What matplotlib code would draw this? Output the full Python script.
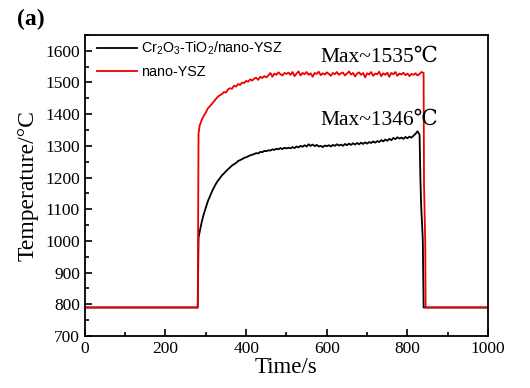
import numpy as np
import matplotlib
matplotlib.use('Agg')
import matplotlib.pyplot as plt
from matplotlib.ticker import MultipleLocator

# baseline and step times (s) / temps (C)
base_temp = 790
t_on = 280
t_end = 1000

# nano-YSZ (red), sampled every 5 s from 285 s
red_start = 285
red_vals = [1365, 1382, 1395, 1405, 1418, 1425, 1432, 1440, 1448, 1455,
            1460, 1463, 1470, 1468, 1478, 1482, 1480, 1490, 1487, 1495,
            1492, 1500, 1498, 1505, 1502, 1510, 1506, 1512, 1515, 1508,
            1518, 1514, 1520, 1516, 1522, 1530, 1518, 1528, 1524, 1532,
            1526, 1522, 1530, 1527,
            1531, 1524, 1533, 1520, 1528, 1535, 1522, 1530, 1526, 1533,
            1524, 1529, 1518, 1530, 1527, 1534, 1523, 1529, 1525, 1532,
            1527, 1521, 1530, 1526, 1533, 1524, 1529, 1531, 1522, 1528,
            1535, 1525, 1530, 1519, 1528, 1532, 1524, 1530, 1516, 1529,
            1525, 1533, 1521, 1528, 1526, 1534, 1520, 1529, 1524, 1531,
            1518, 1530, 1526, 1533, 1521, 1528, 1525, 1531, 1523, 1528,
            1520, 1527, 1524, 1529, 1522, 1527, 1533]
red_drop_t = [840, 841, 844, 845]
red_drop_v = [1530, 1180, 1000, 790]

# Cr2O3-TiO2/nano-YSZ (black), sampled every 5 s from 285 s
blk_start = 285
blk_vals = [1030, 1060, 1085, 1105, 1125, 1140, 1155, 1168, 1180, 1190,
            1198, 1207, 1213, 1220, 1226, 1232, 1238, 1242, 1246, 1252,
            1255, 1258, 1262, 1264, 1267, 1270, 1272, 1274, 1277, 1276,
            1281, 1280, 1284, 1283, 1286, 1285, 1289, 1287, 1291, 1289,
            1293, 1290, 1294, 1292,
            1294, 1292, 1296, 1293, 1298, 1295, 1300, 1297, 1302, 1298,
            1305, 1300, 1304, 1299, 1303, 1298, 1300, 1296, 1301, 1299,
            1302, 1298, 1303, 1300, 1305, 1301, 1304, 1300, 1306, 1302,
            1307, 1303, 1308, 1304, 1309, 1305, 1310, 1306, 1311, 1307,
            1312, 1309, 1314, 1310, 1315, 1312, 1318, 1314, 1320, 1316,
            1322, 1318, 1325, 1321, 1327, 1323, 1326, 1322, 1328, 1324,
            1329, 1326, 1332, 1338, 1346]
blk_drop_t = [830, 832, 834, 838, 840]
blk_drop_v = [1335, 1200, 1110, 1005, 790]

serif = ['Liberation Serif', 'DejaVu Serif']
plt.rcParams['font.family'] = serif
plt.rcParams['mathtext.default'] = 'regular'

red_t = red_start + 5 * np.arange(len(red_vals))
blk_t = blk_start + 5 * np.arange(len(blk_vals))

red_x = np.concatenate([[0, t_on, t_on + 2], red_t, red_drop_t, [t_end]])
red_y = np.concatenate([[base_temp, base_temp, 1340], red_vals, red_drop_v, [base_temp]])
blk_x = np.concatenate([[0, t_on, t_on + 2], blk_t, blk_drop_t, [t_end]])
blk_y = np.concatenate([[base_temp, base_temp, 1010], blk_vals, blk_drop_v, [base_temp]])

fig = plt.figure(figsize=(5.3, 3.88), dpi=100)
ax = fig.add_axes([0.160, 0.134, 0.761, 0.776])

ax.plot(blk_x, blk_y, color='black', lw=1.3, label=r'Cr$_2$O$_3$-TiO$_2$/nano-YSZ')
ax.plot(red_x, red_y, color='#ee0000', lw=1.3, label='nano-YSZ')

ax.set_xlim(0, 1000)
ax.set_ylim(700, 1650)
ax.xaxis.set_major_locator(MultipleLocator(200))
ax.xaxis.set_minor_locator(MultipleLocator(100))
ax.yaxis.set_major_locator(MultipleLocator(100))
ax.yaxis.set_minor_locator(MultipleLocator(50))
ax.tick_params(which='both', direction='in', top=False, right=False, labelsize=12.5)
ax.tick_params(which='major', length=5, width=1.2)
ax.tick_params(which='minor', length=3, width=1.2)
for s in ax.spines.values():
    s.set_linewidth(1.3)

ax.set_xlabel('Time/s', fontsize=16.5, labelpad=0)
ax.set_ylabel('Temperature/°C', fontsize=17, labelpad=5)

ax.text(730, 1580, 'Max~1535℃', fontsize=15.5, ha='center', va='center',
        family=['Liberation Serif', 'DejaVu Serif'])
ax.text(730, 1382, 'Max~1346℃', fontsize=15.5, ha='center', va='center',
        family=['Liberation Serif', 'DejaVu Serif'])

leg = ax.legend(loc='upper left', frameon=False, handlelength=2.8,
                handletextpad=0.3, labelspacing=0.55, borderaxespad=0.1,
                bbox_to_anchor=(0.012, 1.008),
                prop={'family': 'Liberation Sans', 'size': 10.3})

fig.text(0.032, 0.951, '(a)', fontsize=17, fontweight='bold', va='center')

fig.savefig('out.png', dpi=100)
